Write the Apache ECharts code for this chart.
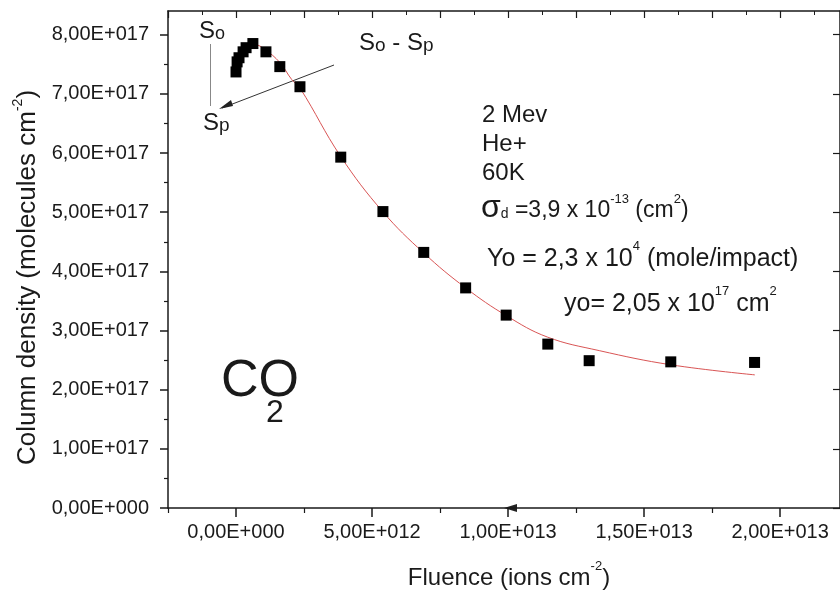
<!DOCTYPE html>
<html>
<head>
<meta charset="utf-8">
<script src="https://cdn.jsdelivr.net/npm/echarts@6/dist/echarts.min.js"></script>
<style>
  html, body { margin: 0; padding: 0; background: #fff; }
  #chart { width: 840px; height: 596px; }
</style>
</head>
<body>
<div id="chart"></div>
<script>
// ---- data ----
const fluence = [0.00e12, 0.04e12, 0.11e12, 0.26e12, 0.37e12, 0.62e12, 1.10e12, 1.61e12, 2.35e12,
                 3.85e12, 5.40e12, 6.90e12, 8.44e12, 9.93e12, 11.46e12, 12.98e12, 15.98e12, 19.06e12];
const columnDensity = [7.37e17, 7.54e17, 7.61e17, 7.71e17, 7.78e17, 7.85e17, 7.71e17, 7.46e17, 7.12e17,
                       5.93e17, 5.01e17, 4.32e17, 3.72e17, 3.26e17, 2.77e17, 2.49e17, 2.47e17, 2.46e17];
const fitFluence = [0.00e12, 0.15e12, 0.40e12, 0.70e12, 1.06e12, 1.61e12, 2.05e12, 2.35e12, 3.85e12,
                    5.39e12, 6.90e12, 8.44e12, 9.94e12, 11.44e12, 13.35e12, 15.99e12, 19.07e12];
const fitDensity = [7.32e17, 7.61e17, 7.76e17, 7.83e17, 7.75e17, 7.53e17, 7.24e17, 7.10e17, 5.94e17,
                    5.01e17, 4.31e17, 3.72e17, 3.25e17, 2.89e17, 2.66e17, 2.42e17, 2.25e17];

const xTickValues = [0, 5e12, 1e13, 1.5e13, 2e13];
const xTickLabels = ['0,00E+000', '5,00E+012', '1,00E+013', '1,50E+013', '2,00E+013'];
const xMinorValues = [-2.5e12, 2.5e12, 7.5e12, 1.25e13, 1.75e13];
const yTickValues = [0, 1e17, 2e17, 3e17, 4e17, 5e17, 6e17, 7e17, 8e17];
const yTickLabels = ['0,00E+000', '1,00E+017', '2,00E+017', '3,00E+017', '4,00E+017',
                     '5,00E+017', '6,00E+017', '7,00E+017', '8,00E+017'];
const yMinorValues = [0.5e17, 1.5e17, 2.5e17, 3.5e17, 4.5e17, 5.5e17, 6.5e17, 7.5e17];

const X_MIN = -2.5e12, X_MAX = 2.22e13, Y_MIN = 0, Y_MAX = 8.4e17;

function lookup(values, labels) {
  const tol = Math.abs(values[1] - values[0]) * 1e-6;
  return function (v) {
    for (let i = 0; i < values.length; i++) {
      if (Math.abs(values[i] - v) <= tol) return labels[i];
    }
    return '';
  };
}

const FONT = 'Liberation Sans, Arial, sans-serif';
const TXT = '#1a1a1a';
const AX = '#1a1a1a';

const chart = echarts.init(document.getElementById('chart'), null, { renderer: 'canvas' });

const baseX = { type: 'value', min: X_MIN, max: X_MAX, gridIndex: 0, splitLine: { show: false } };
const baseY = { type: 'value', min: Y_MIN, max: Y_MAX, gridIndex: 0, splitLine: { show: false } };

function rt(size, lh, va, extra) {
  return Object.assign({ fontFamily: FONT, fontSize: size, fill: TXT, color: TXT, lineHeight: lh, verticalAlign: va }, extra || {});
}

const option = {
  backgroundColor: '#ffffff',
  animation: false,
  grid: { left: 168, right: -1, top: 11, bottom: 88, containLabel: false },
  xAxis: [
    Object.assign({}, baseX, {
      position: 'bottom',
      axisLine: { show: true, onZero: false, lineStyle: { color: AX, width: 1.5 } },
      axisTick: { show: true, inside: false, length: 9, customValues: xTickValues, lineStyle: { color: AX, width: 1.5 } },
      axisLabel: { show: true, customValues: xTickValues, formatter: lookup(xTickValues, xTickLabels),
                   fontFamily: FONT, fontSize: 20, color: TXT, margin: 14 },
      name: '{n|Fluence (ions cm}{s|-2}{n|)}',
      nameLocation: 'middle', nameGap: 52,
      nameTextStyle: {
        padding: [0, 0, 0, 10],
        rich: { n: rt(24, 30, 'bottom'), s: rt(13, 30, 'top') }
      }
    }),
    Object.assign({}, baseX, {
      position: 'bottom',
      axisLine: { show: false, onZero: false },
      axisTick: { show: true, inside: false, length: 5, customValues: xMinorValues, lineStyle: { color: AX, width: 1.2 } },
      axisLabel: { show: false }
    }),
    Object.assign({}, baseX, {
      position: 'top', interval: 2.5e12,
      axisLine: { show: true, onZero: false, lineStyle: { color: AX, width: 1.5 } },
      axisTick: { show: true, inside: true, length: 7, lineStyle: { color: AX, width: 1.2 } },
      minorTick: { show: true, splitNumber: 2, length: 4, lineStyle: { color: AX, width: 1 } },
      axisLabel: { show: false }
    })
  ],
  yAxis: [
    Object.assign({}, baseY, {
      position: 'left',
      axisLine: { show: true, onZero: false, lineStyle: { color: AX, width: 1.5 } },
      axisTick: { show: true, inside: false, length: 8, customValues: yTickValues, lineStyle: { color: AX, width: 1.5 } },
      axisLabel: { show: true, customValues: yTickValues, formatter: lookup(yTickValues, yTickLabels),
                   fontFamily: FONT, fontSize: 20, color: TXT, margin: 19 },
      name: '{n|Column density (molecules cm}{s|-2}{n|)}',
      nameLocation: 'middle', nameGap: 126, nameRotate: 90,
      nameTextStyle: {
        padding: [0, 36, 0, 0],
        rich: { n: rt(26, 30, 'bottom'), s: rt(14, 30, 'top') }
      }
    }),
    Object.assign({}, baseY, {
      position: 'left',
      axisLine: { show: false, onZero: false },
      axisTick: { show: true, inside: false, length: 4, customValues: yMinorValues, lineStyle: { color: AX, width: 1.2 } },
      axisLabel: { show: false }
    }),
    Object.assign({}, baseY, {
      position: 'right',
      axisLine: { show: true, onZero: false, lineStyle: { color: AX, width: 1.5 } },
      axisTick: { show: true, inside: true, length: 7, customValues: yTickValues, lineStyle: { color: AX, width: 1.2 } },
      axisLabel: { show: false }
    })
  ],
  series: [
    {
      type: 'line', name: 'fit', xAxisIndex: 0, yAxisIndex: 0,
      data: fitFluence.map((x, i) => [x, fitDensity[i]]),
      smooth: 0.4, showSymbol: false, symbol: 'none',
      lineStyle: { color: '#d95555', width: 1 }, z: 2
    },
    {
      type: 'scatter', name: 'data', xAxisIndex: 0, yAxisIndex: 0,
      data: fluence.map((x, i) => [x, columnDensity[i]]),
      symbol: 'rect', symbolSize: 11,
      itemStyle: { color: '#000000', opacity: 1 }, z: 3
    }
  ],
  graphic: [
    // So / Sp markers
    { type: 'text', left: 199, top: 19, style: { text: '{a|S}{b|o}', rich: { a: rt(24, 28, 'bottom'), b: rt(18, 28, 'bottom') } } },
    { type: 'line', shape: { x1: 210.5, y1: 44, x2: 210.5, y2: 106 }, style: { stroke: '#888', lineWidth: 1 } },
    { type: 'text', left: 203, top: 111, style: { text: '{a|S}{b|p}', rich: { a: rt(24, 28, 'bottom'), b: rt(19, 28, 'bottom') } } },
    { type: 'text', left: 359, top: 31, style: { text: '{a|S}{b|o}{a| - S}{b|p}', rich: { a: rt(24, 28, 'bottom'), b: rt(19, 28, 'bottom') } } },
    { type: 'line', shape: { x1: 334, y1: 65, x2: 222, y2: 108 }, style: { stroke: '#333', lineWidth: 1 } },
    { type: 'polygon', shape: { points: [[219, 109], [231, 100], [233, 106]] }, style: { fill: '#222' } },
    // small arrow on x axis
    { type: 'polygon', shape: { points: [[504, 508], [517, 504], [517, 512]] }, style: { fill: '#222' } },
    // parameters text
    { type: 'text', left: 482, top: 103, style: { text: '2 Mev', fontFamily: FONT, fontSize: 24, fill: TXT } },
    { type: 'text', left: 482, top: 132, style: { text: 'He+', fontFamily: FONT, fontSize: 24, fill: TXT } },
    { type: 'text', left: 482, top: 161, style: { text: '60K', fontFamily: FONT, fontSize: 24, fill: TXT } },
    { type: 'text', left: 481, top: 190, style: {
        text: '{g|σ}{d|d}{n| =3,9 x 10}{s|-13}{n| (cm}{s|2}{n|)}',
        rich: {
          g: rt(32, 34, 'bottom'),
          d: rt(14, 34, 'bottom', { padding: [0, 0, 3, 0] }),
          n: rt(23, 34, 'bottom', { padding: [0, 0, 2, 0] }),
          s: rt(13, 34, 'top', { padding: [3, 0, 0, 0] })
        } } },
    { type: 'text', left: 487, top: 240, style: {
        text: '{n|Yo = 2,3 x 10}{s|4}{n| (mole/impact)}',
        rich: { n: rt(25, 32, 'bottom'), s: rt(13, 32, 'top') } } },
    { type: 'text', left: 564, top: 285, style: {
        text: '{n|yo= 2,05 x 10}{s|17}{n| cm}{s|2}',
        rich: { n: rt(25, 32, 'bottom'), s: rt(13, 32, 'top') } } },
    // CO2
    { type: 'text', left: 221, top: 356, style: { text: 'CO', fontFamily: FONT, fontSize: 52, fill: TXT } },
    { type: 'text', left: 266, top: 397, style: { text: '2', fontFamily: FONT, fontSize: 32, fill: TXT } }
  ]
};

chart.setOption(option);
</script>
</body>
</html>
